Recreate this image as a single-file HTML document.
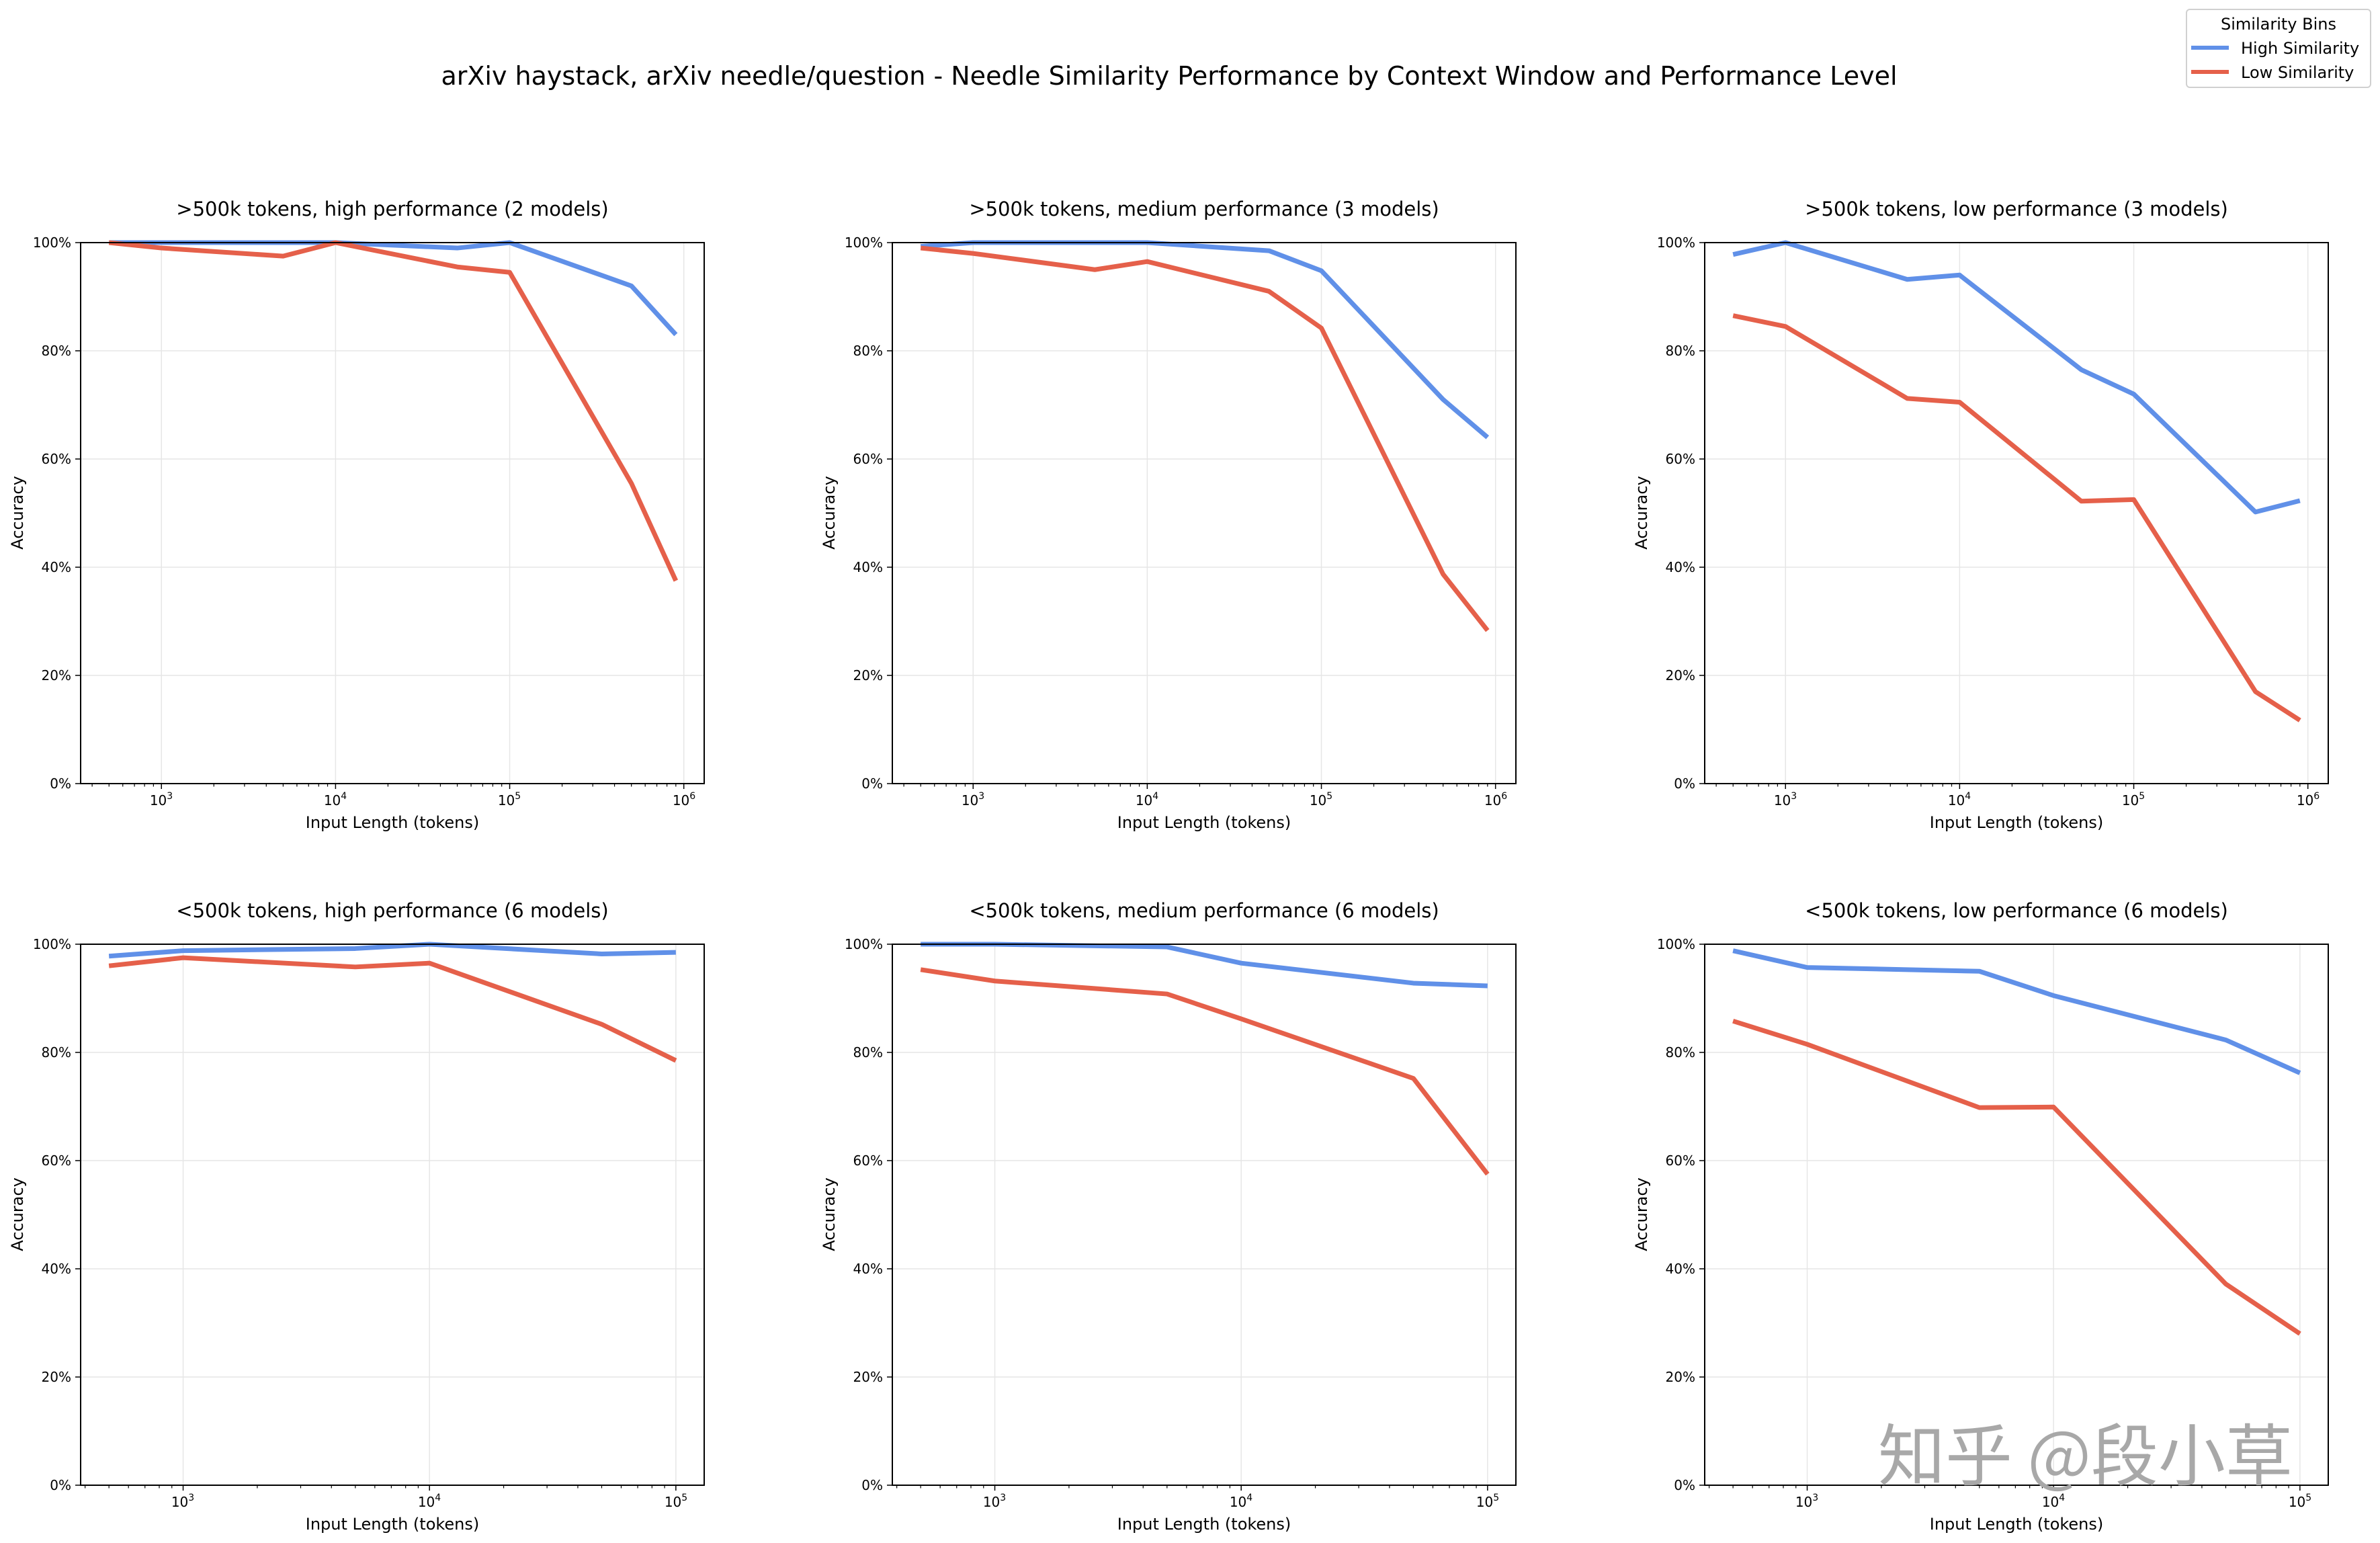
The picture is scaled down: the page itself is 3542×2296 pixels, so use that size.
<!DOCTYPE html>
<html><head><meta charset="utf-8"><style>
html,body{margin:0;padding:0;background:#fff;}
svg{display:block;font-family:"DejaVu Sans","Liberation Sans",sans-serif;}
</style></head><body>
<svg id="s" width="3542" height="2296" xmlns="http://www.w3.org/2000/svg">
<rect width="3542" height="2296" fill="#fff"/>
<g id="g"></g>
<text x="1740" y="126" font-size="38" text-anchor="middle">arXiv haystack, arXiv needle/question - Needle Similarity Performance by Context Window and Performance Level</text>

<g font-size="29" text-anchor="middle">
<text x="584" y="321">&gt;500k tokens, high performance (2 models)</text>
<text x="1792" y="321">&gt;500k tokens, medium performance (3 models)</text>
<text x="3001" y="321">&gt;500k tokens, low performance (3 models)</text>
<text x="584" y="1365">&lt;500k tokens, high performance (6 models)</text>
<text x="1792" y="1365">&lt;500k tokens, medium performance (6 models)</text>
<text x="3001" y="1365">&lt;500k tokens, low performance (6 models)</text>
</g>
<g font-size="24" text-anchor="middle">
<text x="584" y="1232">Input Length (tokens)</text>
<text x="1792" y="1232">Input Length (tokens)</text>
<text x="3001" y="1232">Input Length (tokens)</text>
<text x="584" y="2276">Input Length (tokens)</text>
<text x="1792" y="2276">Input Length (tokens)</text>
<text x="3001" y="2276">Input Length (tokens)</text>
<text transform="translate(34,763) rotate(-90)">Accuracy</text>
<text transform="translate(1242,763) rotate(-90)">Accuracy</text>
<text transform="translate(2451,763) rotate(-90)">Accuracy</text>
<text transform="translate(34,1807) rotate(-90)">Accuracy</text>
<text transform="translate(1242,1807) rotate(-90)">Accuracy</text>
<text transform="translate(2451,1807) rotate(-90)">Accuracy</text>
</g>
<g font-size="20" text-anchor="end">
<text x="106" y="368">100%</text><text x="106" y="529">80%</text><text x="106" y="690">60%</text><text x="106" y="851">40%</text><text x="106" y="1012">20%</text><text x="106" y="1173">0%</text>
<text x="1314" y="368">100%</text><text x="1314" y="529">80%</text><text x="1314" y="690">60%</text><text x="1314" y="851">40%</text><text x="1314" y="1012">20%</text><text x="1314" y="1173">0%</text>
<text x="2523" y="368">100%</text><text x="2523" y="529">80%</text><text x="2523" y="690">60%</text><text x="2523" y="851">40%</text><text x="2523" y="1012">20%</text><text x="2523" y="1173">0%</text>
<text x="106" y="1412">100%</text><text x="106" y="1573">80%</text><text x="106" y="1734">60%</text><text x="106" y="1895">40%</text><text x="106" y="2056">20%</text><text x="106" y="2217">0%</text>
<text x="1314" y="1412">100%</text><text x="1314" y="1573">80%</text><text x="1314" y="1734">60%</text><text x="1314" y="1895">40%</text><text x="1314" y="2056">20%</text><text x="1314" y="2217">0%</text>
<text x="2523" y="1412">100%</text><text x="2523" y="1573">80%</text><text x="2523" y="1734">60%</text><text x="2523" y="1895">40%</text><text x="2523" y="2056">20%</text><text x="2523" y="2217">0%</text>
</g>
<g font-size="20" text-anchor="middle">
<text x="240" y="1198">10<tspan font-size="14" dy="-9">3</tspan></text><text x="499" y="1198">10<tspan font-size="14" dy="-9">4</tspan></text><text x="758" y="1198">10<tspan font-size="14" dy="-9">5</tspan></text><text x="1018" y="1198">10<tspan font-size="14" dy="-9">6</tspan></text>
<text x="1448" y="1198">10<tspan font-size="14" dy="-9">3</tspan></text><text x="1707" y="1198">10<tspan font-size="14" dy="-9">4</tspan></text><text x="1966" y="1198">10<tspan font-size="14" dy="-9">5</tspan></text><text x="2226" y="1198">10<tspan font-size="14" dy="-9">6</tspan></text>
<text x="2657" y="1198">10<tspan font-size="14" dy="-9">3</tspan></text><text x="2916" y="1198">10<tspan font-size="14" dy="-9">4</tspan></text><text x="3175" y="1198">10<tspan font-size="14" dy="-9">5</tspan></text><text x="3435" y="1198">10<tspan font-size="14" dy="-9">6</tspan></text>
<text x="272" y="2242">10<tspan font-size="14" dy="-9">3</tspan></text><text x="639" y="2242">10<tspan font-size="14" dy="-9">4</tspan></text><text x="1006" y="2242">10<tspan font-size="14" dy="-9">5</tspan></text>
<text x="1480" y="2242">10<tspan font-size="14" dy="-9">3</tspan></text><text x="1847" y="2242">10<tspan font-size="14" dy="-9">4</tspan></text><text x="2214" y="2242">10<tspan font-size="14" dy="-9">5</tspan></text>
<text x="2689" y="2242">10<tspan font-size="14" dy="-9">3</tspan></text><text x="3056" y="2242">10<tspan font-size="14" dy="-9">4</tspan></text><text x="3423" y="2242">10<tspan font-size="14" dy="-9">5</tspan></text>
</g>
<text x="2795" y="2202" font-size="100" fill="#a8a8a8" font-family="'Noto Sans CJK SC',sans-serif">知乎 @段小草</text>
<rect x="3254" y="14" width="274" height="116" rx="5" fill="#fff" stroke="#d0d0d0" stroke-width="2"/>
<text x="3391" y="44" font-size="24" text-anchor="middle">Similarity Bins</text>
<line x1="3261" y1="71" x2="3317" y2="71" stroke="#6090e8" stroke-width="6"/>
<line x1="3261" y1="107" x2="3317" y2="107" stroke="#e5604a" stroke-width="6"/>
<text x="3335" y="80" font-size="24">High Similarity</text>
<text x="3335" y="116" font-size="24">Low Similarity</text>
</svg>
<script>
var NS="http://www.w3.org/2000/svg",g=document.getElementById('g');
function el(t,a){var e=document.createElementNS(NS,t);for(var k in a)e.setAttribute(k,a[k]);g.appendChild(e);return e;}
var cols=[120,1328,2537],W=928,H=805,rows=[361,1405];
var x1=[500,1000,5000,10000,50000,100000,500000,900000],x2=[500,1000,5000,10000,50000,100000];
var P=[
[[1,1,1,1,.99,1,.92,.83],[1,.99,.975,1,.955,.945,.555,.375]],
[[.993,1,1,1,.985,.948,.71,.64],[.99,.98,.95,.965,.91,.842,.387,.283]],
[[.978,1,.932,.94,.765,.72,.502,.523],[.865,.845,.712,.705,.522,.525,.17,.117]],
[[.978,.988,.992,1,.982,.985],[.96,.975,.958,.965,.852,.785]],
[[1,1,.995,.965,.928,.923],[.953,.932,.908,.862,.752,.575]],
[[.988,.957,.95,.905,.823,.762],[.858,.815,.698,.699,.372,.28]]];
for(var i=0;i<6;i++){
 var r=Math.floor(i/3),L=cols[i%3],T=rows[r],B=T+H;
 var lo=r?2.584:2.536,hi=r?5.115:6.117;
 var X=function(v){return L+(Math.log10(v)-lo)/(hi-lo)*W;};
 var Y=function(v){return T+(1-v)*H;};
 for(var k=0;k<=5;k++){var y=Y(k*.2);el('line',{x1:L,x2:L+W,y1:y,y2:y,stroke:'#e6e6e6','stroke-width':1.5});el('line',{x1:L-8,x2:L,y1:y,y2:y,stroke:'#000','stroke-width':1.5});}
 for(var d=2;d<=6;d++){for(var m=1;m<10;m++){var v=m*Math.pow(10,d);var lv=Math.log10(v);if(lv<lo||lv>hi)continue;var x=X(v);
  if(m==1){el('line',{x1:x,x2:x,y1:T,y2:B,stroke:'#e6e6e6','stroke-width':1.5});el('line',{x1:x,x2:x,y1:B,y2:B+8,stroke:'#000','stroke-width':1.5});}
  else el('line',{x1:x,x2:x,y1:B,y2:B+4.5,stroke:'#000','stroke-width':1.2});}}
 var xs=r?x2:x1,cl=['#6090e8','#e5604a'];
 for(var s=0;s<2;s++){var p=xs.map(function(v,j){return X(v)+','+Y(P[i][s][j]);}).join(' ');
  el('polyline',{points:p,fill:'none',stroke:cl[s],'stroke-width':7,'stroke-linejoin':'round'});}
 el('rect',{x:L,y:T,width:W,height:H,fill:'none',stroke:'#000','stroke-width':2});
}
</script>
</body></html>
